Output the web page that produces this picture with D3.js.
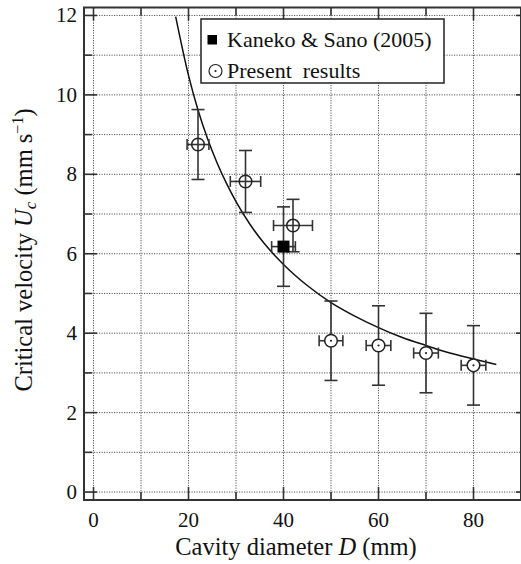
<!DOCTYPE html>
<html>
<head>
<meta charset="utf-8">
<script src="https://cdn.jsdelivr.net/npm/d3@7"></script>
<style>
  html, body { margin: 0; padding: 0; background: #fff; }
  svg { display: block; }
  text { font-family: "Liberation Serif", "Times New Roman", serif; fill: #111; }
</style>
</head>
<body>
<svg id="chart" width="521" height="564"></svg>
<script>
// ---- data ----
const presentD    = [22, 32, 42, 50, 60, 70, 80];
const presentU    = [8.75, 7.82, 6.71, 3.81, 3.69, 3.50, 3.19];
const presentUerr = [0.88, 0.78, 0.66, 1.0, 1.0, 1.0, 1.0];
const presentDerr = [2.3, 3.2, 4.1, 2.5, 2.6, 2.6, 2.6];

const kanekoD    = [40];
const kanekoU    = [6.18];
const kanekoUerr = [1.0];
const kanekoDerr = [2.5];

// fitted curve, values
const curveD = [17.3, 20, 22, 24, 26, 28, 30, 33, 36, 40, 45, 50, 55, 60, 65, 70, 75, 80, 84.8];
const curveU = [11.97, 10.49, 9.62, 8.90, 8.29, 7.77, 7.31, 6.73, 6.25, 5.73, 5.20, 4.77, 4.43, 4.14, 3.89, 3.69, 3.50, 3.35, 3.21];

const xMajor = [0, 20, 40, 60, 80];
const xMinor = [10, 30, 50, 70, 90];
const yMajor = [0, 2, 4, 6, 8, 10, 12];
const yMinor = [1, 3, 5, 7, 9, 11];
const xGrid = [0, 10, 20, 30, 40, 50, 60, 70, 80, 90];
const yGrid = [0, 1, 2, 3, 4, 5, 6, 7, 8, 9, 10, 11, 12];

const legendLabels = ["Kaneko & Sano (2005)", "Present  results"];

// ---- layout ----
const svg = d3.select("#chart");
const L = 84, R = 521, T = 7.5, B = 500;
const x = d3.scaleLinear().domain([-2, 90]).range([L, R]);
const y = d3.scaleLinear().domain([-0.2, 12.2]).range([B, T]);

const frameColor = "#333";
const gridColor = "#555";

// grid
const grid = svg.append("g");
grid.selectAll("line.gx").data(xGrid).join("line")
  .attr("x1", d => x(d)).attr("x2", d => x(d)).attr("y1", T).attr("y2", B)
  .attr("stroke", gridColor).attr("stroke-width", 1).attr("stroke-dasharray", "1.2,1.3");
grid.selectAll("line.gy").data(yGrid).join("line")
  .attr("y1", d => y(d)).attr("y2", d => y(d)).attr("x1", L).attr("x2", R)
  .attr("stroke", gridColor).attr("stroke-width", 1).attr("stroke-dasharray", "1.2,1.3");

// curve
const curvePts = curveD.map((d, i) => [d, curveU[i]]);
svg.append("path")
  .datum(curvePts)
  .attr("d", d3.line().x(d => x(d[0])).y(d => y(d[1])).curve(d3.curveMonotoneX))
  .attr("fill", "none").attr("stroke", "#111").attr("stroke-width", 1.5);

// error bars
function errorBars(Ds, Us, Derr, Uerr) {
  const g = svg.append("g").attr("stroke", "#333").attr("stroke-width", 1.6);
  Ds.forEach((d, i) => {
    const cx = x(d), cy = y(Us[i]);
    const y1 = y(Us[i] + Uerr[i]), y2 = y(Us[i] - Uerr[i]);
    const x1 = x(d - Derr[i]), x2 = x(d + Derr[i]);
    g.append("line").attr("x1", cx).attr("x2", cx).attr("y1", y1).attr("y2", y2);
    g.append("line").attr("x1", cx - 6.5).attr("x2", cx + 6.5).attr("y1", y1).attr("y2", y1);
    g.append("line").attr("x1", cx - 6.5).attr("x2", cx + 6.5).attr("y1", y2).attr("y2", y2);
    g.append("line").attr("x1", x1).attr("x2", x2).attr("y1", cy).attr("y2", cy);
    g.append("line").attr("x1", x1).attr("x2", x1).attr("y1", cy - 5.5).attr("y2", cy + 5.5);
    g.append("line").attr("x1", x2).attr("x2", x2).attr("y1", cy - 5.5).attr("y2", cy + 5.5);
  });
}
errorBars(presentD, presentU, presentDerr, presentUerr);
errorBars(kanekoD, kanekoU, kanekoDerr, kanekoUerr);

// markers: present results (circle with dot)
const pts = presentD.map((d, i) => ({ d, u: presentU[i], i }));
svg.append("g").selectAll("circle").data(pts).join("circle")
  .attr("cx", p => x(p.d)).attr("cy", p => y(p.u)).attr("r", 6.3)
  .attr("fill", p => p.i < 3 ? "none" : "#fff")
  .attr("stroke", "#222").attr("stroke-width", 1.5);
svg.append("g").selectAll("circle").data(pts.filter(p => p.i >= 3)).join("circle")
  .attr("cx", p => x(p.d)).attr("cy", p => y(p.u)).attr("r", 1.1).attr("fill", "#222");

// Kaneko square
svg.append("g").selectAll("rect").data(kanekoD.map((d, i) => ({ d, u: kanekoU[i] }))).join("rect")
  .attr("x", p => x(p.d) - 6).attr("y", p => y(p.u) - 6).attr("width", 12).attr("height", 12)
  .attr("fill", "#000");

// frame
svg.append("rect").attr("x", L).attr("y", T).attr("width", R - L).attr("height", B - T)
  .attr("fill", "none").attr("stroke", frameColor).attr("stroke-width", 2);

// ticks
const tk = svg.append("g").attr("stroke", frameColor).attr("stroke-width", 1.6);
const majLen = 13, minLen = 8;
tk.selectAll("line.xb").data(xMajor.concat(xMinor)).join("line")
  .attr("x1", d => x(d)).attr("x2", d => x(d)).attr("y1", B)
  .attr("y2", d => B - (xMajor.includes(d) ? majLen : minLen));
tk.selectAll("line.xt").data(xMajor.concat(xMinor)).join("line")
  .attr("x1", d => x(d)).attr("x2", d => x(d)).attr("y1", T)
  .attr("y2", d => T + (xMajor.includes(d) ? majLen : minLen));
tk.selectAll("line.yl").data(yMajor.concat(yMinor)).join("line")
  .attr("y1", d => y(d)).attr("y2", d => y(d)).attr("x1", L)
  .attr("x2", d => L + (yMajor.includes(d) ? majLen : minLen));
tk.selectAll("line.yr").data(yMajor).join("line")
  .attr("y1", d => y(d)).attr("y2", d => y(d)).attr("x1", R).attr("x2", R - 5);

// tick labels
svg.append("g").selectAll("text").data(xMajor).join("text")
  .attr("x", d => x(d)).attr("y", 527).attr("text-anchor", "middle")
  .attr("font-size", 21).text(d => d);
svg.append("g").selectAll("text").data(yMajor).join("text")
  .attr("x", 77).attr("y", d => y(d) + 7).attr("text-anchor", "end")
  .attr("font-size", 21).text(d => d);

// x title
const xt = svg.append("text").attr("x", 296).attr("y", 555).attr("text-anchor", "middle").attr("font-size", 24.5);
xt.append("tspan").text("Cavity diameter ");
xt.append("tspan").attr("font-style", "italic").text("D");
xt.append("tspan").text(" (mm)");

// y title
const yt = svg.append("text").attr("transform", "translate(32,250) rotate(-90)")
  .attr("text-anchor", "middle").attr("font-size", 24.5);
yt.append("tspan").text("Critical velocity ");
yt.append("tspan").attr("font-style", "italic").text("U");
yt.append("tspan").attr("font-style", "italic").attr("font-size", 17).attr("dy", 4).text("c");
yt.append("tspan").attr("dy", -4).text(" (mm s");
yt.append("tspan").attr("font-size", 16).attr("dy", -9).text("\u22121");
yt.append("tspan").attr("dy", 9).text(")");

// legend
const lg = svg.append("g");
lg.append("rect").attr("x", 201).attr("y", 19).attr("width", 243).attr("height", 64)
  .attr("fill", "#fff").attr("stroke", "#222").attr("stroke-width", 1.5);
lg.append("rect").attr("x", 207.5).attr("y", 35).attr("width", 9.5).attr("height", 9.5).attr("fill", "#000");
lg.append("circle").attr("cx", 215.5).attr("cy", 71).attr("r", 6.5).attr("fill", "#fff")
  .attr("stroke", "#222").attr("stroke-width", 1.2);
lg.append("circle").attr("cx", 215.5).attr("cy", 71).attr("r", 1.1).attr("fill", "#222");
lg.selectAll("text").data(legendLabels).join("text")
  .attr("x", 227).attr("y", (d, i) => 47 + i * 31).attr("font-size", 22)
  .attr("xml:space", "preserve").style("white-space", "pre").text(d => d);
</script>
</body>
</html>
